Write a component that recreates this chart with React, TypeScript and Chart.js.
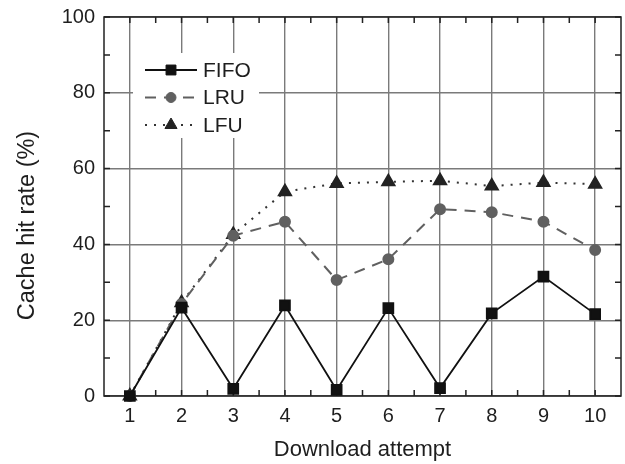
import React, { useEffect, useRef } from "react";
import { Chart, registerables } from "chart.js";

Chart.register(...registerables);

const attempts = [1, 2, 3, 4, 5, 6, 7, 8, 9, 10];
const fifo = [0, 23.3, 1.9, 23.9, 1.6, 23.2, 2.1, 21.8, 31.5, 21.6];
const lru = [0, 24.3, 42.3, 46.0, 30.6, 36.1, 49.3, 48.5, 46.0, 38.5];
const lfu = [0, 24.6, 42.6, 53.9, 56.1, 56.5, 56.8, 55.4, 56.3, 55.9];
const seriesNames = ["FIFO", "LRU", "LFU"];
const xTitle = "Download attempt";
const yTitle = "Cache hit rate (%)";
const xMinorTicks = [1.5, 2.5, 3.5, 4.5, 5.5, 6.5, 7.5, 8.5, 9.5];
const yMinorTicks = [10, 30, 50, 70, 90];
const yMajorTicks = [0, 20, 40, 60, 80, 100];

const FONT = "'Liberation Sans', Arial, sans-serif";
const TEXT = "#1e1e1e";

function drawMarker(ctx: CanvasRenderingContext2D, style: string, r: number, x: number, y: number) {
  ctx.beginPath();
  if (style === "rect") {
    const s = r * Math.SQRT1_2;
    ctx.rect(x - s, y - s, 2 * s, 2 * s);
  } else if (style === "circle") {
    ctx.arc(x, y, r, 0, Math.PI * 2);
  } else {
    const w = (r * Math.sqrt(3)) / 2;
    ctx.moveTo(x, y - r);
    ctx.lineTo(x + w, y + r / 2);
    ctx.lineTo(x - w, y + r / 2);
    ctx.closePath();
  }
  ctx.fill();
  ctx.stroke();
}

const framePlugin = {
  id: "frameTicks",
  beforeDatasetsDraw(chart: any) {
    const { ctx, chartArea: a, scales } = chart;
    const x = scales.x;
    const y = scales.y;
    ctx.save();
    ctx.strokeStyle = "#222";
    ctx.lineWidth = 1.5;
    ctx.strokeRect(a.left, a.top, a.right - a.left, a.bottom - a.top);
    ctx.beginPath();
    const len = 6;
    [...attempts, ...xMinorTicks].forEach((v) => {
      const px = x.getPixelForValue(v);
      ctx.moveTo(px, a.bottom);
      ctx.lineTo(px, a.bottom - len);
      ctx.moveTo(px, a.top);
      ctx.lineTo(px, a.top + len);
    });
    [...yMajorTicks, ...yMinorTicks].forEach((v) => {
      const py = y.getPixelForValue(v);
      ctx.moveTo(a.left, py);
      ctx.lineTo(a.left + len, py);
      ctx.moveTo(a.right, py);
      ctx.lineTo(a.right - len, py);
    });
    ctx.stroke();
    ctx.save();
    ctx.translate(28, (a.top + a.bottom) / 2 + 19);
    ctx.rotate(-Math.PI / 2);
    ctx.fillStyle = TEXT;
    ctx.font = `23.5px ${FONT}`;
    ctx.textAlign = "center";
    ctx.textBaseline = "middle";
    ctx.fillText(yTitle, 0, 0);
    ctx.restore();
    ctx.restore();
  },
};

const legendPlugin = {
  id: "legendBox",
  afterDraw(chart: any) {
    const { ctx, chartArea: a } = chart;
    ctx.save();
    const bx = a.left + 29;
    const by = a.top + 36;
    ctx.fillStyle = "#fff";
    ctx.fillRect(bx, by, 126, 85);
    chart.data.datasets.forEach((ds: any, i: number) => {
      const cy = a.top + 53 + i * 27.5;
      const x0 = a.left + 41;
      const x1 = a.left + 93;
      ctx.strokeStyle = ds.borderColor;
      ctx.lineWidth = ds.borderWidth;
      ctx.setLineDash(ds.borderDash || []);
      ctx.beginPath();
      ctx.moveTo(x0, cy);
      ctx.lineTo(x1, cy);
      ctx.stroke();
      ctx.setLineDash([]);
      ctx.fillStyle = ds.pointBackgroundColor;
      ctx.strokeStyle = ds.pointBorderColor;
      ctx.lineWidth = 1;
      drawMarker(ctx, ds.pointStyle, ds.pointRadius, (x0 + x1) / 2, cy);
      ctx.fillStyle = TEXT;
      ctx.font = `21px ${FONT}`;
      ctx.textBaseline = "middle";
      ctx.textAlign = "left";
      ctx.fillText(ds.label, a.left + 99, cy + 1);
    });
    ctx.restore();
  },
};

export default function App() {
  const ref = useRef<HTMLCanvasElement | null>(null);
  useEffect(() => {
    document.body.style.margin = "0";
    const canvas = ref.current!;
    const chart = new Chart(canvas, {
      type: "line",
      data: {
        datasets: [
          {
            label: seriesNames[0],
            data: attempts.map((a, i) => ({ x: a, y: fifo[i] })),
            borderColor: "#111",
            borderWidth: 1.8,
            pointStyle: "rect",
            pointRadius: 7,
            pointBackgroundColor: "#111",
            pointBorderColor: "#111",
            clip: false as any,
          },
          {
            label: seriesNames[1],
            data: attempts.map((a, i) => ({ x: a, y: lru[i] })),
            borderColor: "#606060",
            borderWidth: 2,
            borderDash: [11, 8],
            pointStyle: "circle",
            pointRadius: 5,
            pointBackgroundColor: "#606060",
            pointBorderColor: "#606060",
            clip: false as any,
          },
          {
            label: seriesNames[2],
            data: attempts.map((a, i) => ({ x: a, y: lfu[i] })),
            borderColor: "#333",
            borderWidth: 2,
            borderDash: [2, 7],
            pointStyle: "triangle",
            pointRadius: 7,
            pointBackgroundColor: "#222",
            pointBorderColor: "#222",
            clip: false as any,
          },
        ],
      },
      options: {
        animation: false,
        responsive: false,
        layout: { autoPadding: false, padding: { top: 17, right: 4, left: 0, bottom: 0 } },
        plugins: { legend: { display: false }, tooltip: { enabled: false } },
        scales: {
          x: {
            type: "linear",
            min: 0.5,
            max: 10.5,
            afterBuildTicks: (s: any) => {
              s.ticks = attempts.map((v) => ({ value: v }));
            },
            afterFit: (s: any) => {
              s.height = 68;
              s.paddingLeft = 0;
              s.paddingRight = 0;
            },
            grid: { color: "#7a7a7a", lineWidth: 1.4, drawTicks: false },
            border: { display: false },
            ticks: {
              color: TEXT,
              font: { family: FONT, size: 20 },
              padding: 8,
              maxRotation: 0,
              autoSkip: false,
            },
            title: {
              display: true,
              text: xTitle,
              color: TEXT,
              font: { family: FONT, size: 22 },
              padding: { top: 0, bottom: 1 },
            },
          },
          y: {
            min: 0,
            max: 100,
            afterBuildTicks: (s: any) => {
              s.ticks = yMajorTicks.map((v) => ({ value: v }));
            },
            afterFit: (s: any) => {
              s.width = 104;
              s.paddingTop = 0;
              s.paddingBottom = 0;
            },
            grid: { color: "#7a7a7a", lineWidth: 1.4, drawTicks: false },
            border: { display: false },
            ticks: {
              color: TEXT,
              font: { family: FONT, size: 20 },
              padding: 9,
            },
            title: { display: false },
          },
        },
      } as any,
      plugins: [framePlugin, legendPlugin],
    });
    return () => chart.destroy();
  }, []);
  return <canvas ref={ref} width={625} height={464} style={{ display: "block" }} />;
}
